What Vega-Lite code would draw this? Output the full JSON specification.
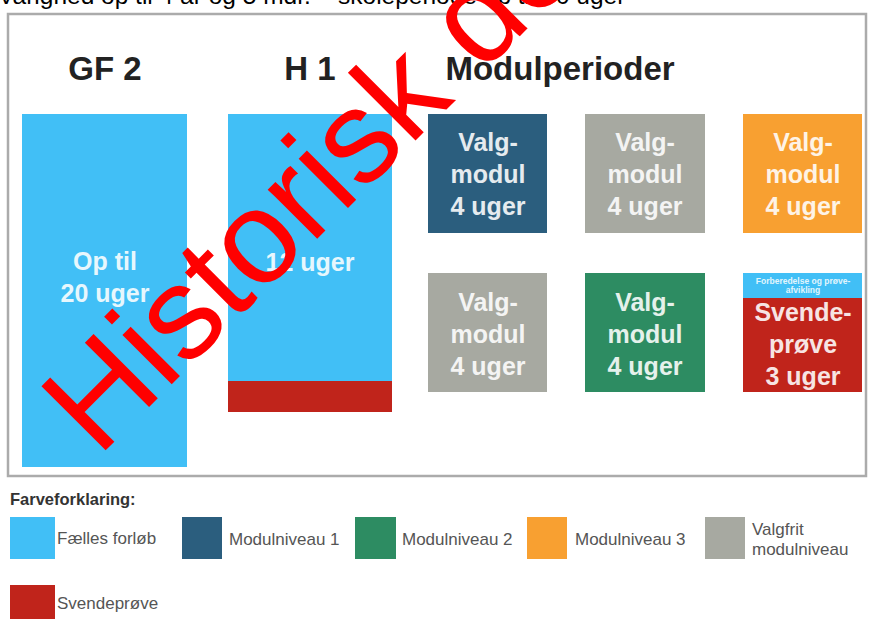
{
  "$schema": "https://vega.github.io/schema/vega-lite/v6.json",
  "width": 869,
  "height": 619,
  "padding": 0,
  "autosize": {"type": "none"},
  "background": "#ffffff",
  "config": {"view": {"stroke": null}},
  "datasets": {
    "frame": [{"x": 8, "x2": 866, "y": 14, "y2": 476}],
    "boxes": [
      {"x": 22, "x2": 187, "y": 114, "y2": 467, "c": "Fælles forløb"},
      {"x": 228, "x2": 392, "y": 114, "y2": 381, "c": "Fælles forløb"},
      {"x": 228, "x2": 392, "y": 381, "y2": 412, "c": "Svendeprøve"},
      {"x": 428, "x2": 547, "y": 114, "y2": 233, "c": "Modulniveau 1"},
      {"x": 585, "x2": 705, "y": 114, "y2": 233, "c": "Valgfrit modulniveau"},
      {"x": 743, "x2": 862, "y": 114, "y2": 233, "c": "Modulniveau 3"},
      {"x": 428, "x2": 547, "y": 273, "y2": 392, "c": "Valgfrit modulniveau"},
      {"x": 585, "x2": 705, "y": 273, "y2": 392, "c": "Modulniveau 2"},
      {"x": 743, "x2": 862, "y": 273, "y2": 298, "c": "Fælles forløb"},
      {"x": 743, "x2": 862, "y": 298, "y2": 392, "c": "Svendeprøve"},
      {"x": 10, "x2": 55, "y": 517, "y2": 559, "c": "Fælles forløb"},
      {"x": 182, "x2": 222, "y": 517, "y2": 559, "c": "Modulniveau 1"},
      {"x": 355, "x2": 396, "y": 517, "y2": 559, "c": "Modulniveau 2"},
      {"x": 527, "x2": 567, "y": 517, "y2": 559, "c": "Modulniveau 3"},
      {"x": 705, "x2": 745, "y": 517, "y2": 559, "c": "Valgfrit modulniveau"},
      {"x": 10, "x2": 55, "y": 585, "y2": 630, "c": "Svendeprøve"}
    ],
    "titles": [
      {"x": 105, "y": 70, "t": "GF 2"},
      {"x": 310, "y": 70, "t": "H 1"},
      {"x": 560, "y": 70, "t": "Modulperioder"}
    ],
    "boxlabels": [
      {"x": 105, "y": 262, "t": "Op til\n20 uger"},
      {"x": 310, "y": 263, "t": "12 uger"},
      {"x": 488, "y": 143, "t": "Valg-\nmodul\n4 uger"},
      {"x": 645, "y": 143, "t": "Valg-\nmodul\n4 uger"},
      {"x": 803, "y": 143, "t": "Valg-\nmodul\n4 uger"},
      {"x": 488, "y": 303, "t": "Valg-\nmodul\n4 uger"},
      {"x": 645, "y": 303, "t": "Valg-\nmodul\n4 uger"},
      {"x": 803, "y": 313, "t": "Svende-\nprøve\n3 uger"}
    ],
    "small": [
      {"x": 803, "y": 281, "t": "Forberedelse og prøve-\nafvikling"}
    ],
    "legendlabels": [
      {"x": 57, "y": 539, "t": "Fælles forløb"},
      {"x": 229, "y": 540, "t": "Modulniveau 1"},
      {"x": 402, "y": 540, "t": "Modulniveau 2"},
      {"x": 575, "y": 540, "t": "Modulniveau 3"},
      {"x": 752, "y": 530, "t": "Valgfrit\nmodulniveau"},
      {"x": 57, "y": 604, "t": "Svendeprøve"}
    ],
    "legendtitle": [{"x": 10, "y": 500, "t": "Farveforklaring:"}],
    "top": [{"x": -2, "y": 4, "t": "Varighed op til 4 år og 5 mdr. – skoleperiode op til 50 uger"}],
    "watermark": [{"x": 98, "y": 458, "t": "Historisk dokument"}]
  },
  "layer": [
    {
      "data": {"name": "frame"},
      "mark": {"type": "rect", "fill": null, "stroke": "#ababab", "strokeWidth": 2.5},
      "encoding": {
        "x": {"field": "x", "type": "quantitative", "scale": {"domain": [0, 869], "nice": false, "zero": false}, "axis": null},
        "x2": {"field": "x2"},
        "y": {"field": "y", "type": "quantitative", "scale": {"domain": [0, 619], "nice": false, "zero": false, "reverse": true}, "axis": null},
        "y2": {"field": "y2"}
      }
    },
    {
      "data": {"name": "boxes"},
      "mark": {"type": "rect"},
      "encoding": {
        "x": {"field": "x", "type": "quantitative", "axis": null},
        "x2": {"field": "x2"},
        "y": {"field": "y", "type": "quantitative", "axis": null},
        "y2": {"field": "y2"},
        "color": {
          "field": "c", "type": "nominal", "legend": null,
          "scale": {
            "domain": ["Fælles forløb", "Modulniveau 1", "Modulniveau 2", "Modulniveau 3", "Valgfrit modulniveau", "Svendeprøve"],
            "range": ["#41bff6", "#2b5e7e", "#2d8c62", "#f8a031", "#a7a9a1", "#c0241b"]
          }
        }
      }
    },
    {
      "data": {"name": "titles"},
      "mark": {"type": "text", "font": "Liberation Sans", "fontWeight": "bold", "fontSize": 33, "fill": "#222222", "align": "center", "baseline": "middle"},
      "encoding": {
        "x": {"field": "x", "type": "quantitative", "axis": null},
        "y": {"field": "y", "type": "quantitative", "axis": null},
        "text": {"field": "t"}
      }
    },
    {
      "data": {"name": "boxlabels"},
      "mark": {"type": "text", "font": "Liberation Sans", "fontWeight": "bold", "fontSize": 25, "fill": "#ffffff", "opacity": 0.88, "align": "center", "baseline": "middle", "lineBreak": "\n", "lineHeight": 32},
      "encoding": {
        "x": {"field": "x", "type": "quantitative", "axis": null},
        "y": {"field": "y", "type": "quantitative", "axis": null},
        "text": {"field": "t"}
      }
    },
    {
      "data": {"name": "small"},
      "mark": {"type": "text", "font": "Liberation Sans", "fontWeight": "bold", "fontSize": 8.5, "fill": "#ffffff", "opacity": 0.85, "align": "center", "baseline": "middle", "lineBreak": "\n", "lineHeight": 9},
      "encoding": {
        "x": {"field": "x", "type": "quantitative", "axis": null},
        "y": {"field": "y", "type": "quantitative", "axis": null},
        "text": {"field": "t"}
      }
    },
    {
      "data": {"name": "legendlabels"},
      "mark": {"type": "text", "font": "Liberation Sans", "fontSize": 17, "fill": "#555555", "align": "left", "baseline": "middle", "lineBreak": "\n", "lineHeight": 20},
      "encoding": {
        "x": {"field": "x", "type": "quantitative", "axis": null},
        "y": {"field": "y", "type": "quantitative", "axis": null},
        "text": {"field": "t"}
      }
    },
    {
      "data": {"name": "legendtitle"},
      "mark": {"type": "text", "font": "Liberation Sans", "fontWeight": "bold", "fontSize": 16.5, "fill": "#333333", "align": "left", "baseline": "middle"},
      "encoding": {
        "x": {"field": "x", "type": "quantitative", "axis": null},
        "y": {"field": "y", "type": "quantitative", "axis": null},
        "text": {"field": "t"}
      }
    },
    {
      "data": {"name": "top"},
      "mark": {"type": "text", "font": "Liberation Sans", "fontSize": 24.5, "fill": "#000000", "align": "left", "baseline": "alphabetic"},
      "encoding": {
        "x": {"field": "x", "type": "quantitative", "axis": null},
        "y": {"field": "y", "type": "quantitative", "axis": null},
        "text": {"field": "t"}
      }
    },
    {
      "data": {"name": "watermark"},
      "mark": {"type": "text", "font": "Liberation Sans", "fontSize": 132, "fill": "#ff0000", "align": "left", "baseline": "alphabetic", "angle": -45},
      "encoding": {
        "x": {"field": "x", "type": "quantitative", "axis": null},
        "y": {"field": "y", "type": "quantitative", "axis": null},
        "text": {"field": "t"}
      }
    }
  ]
}
